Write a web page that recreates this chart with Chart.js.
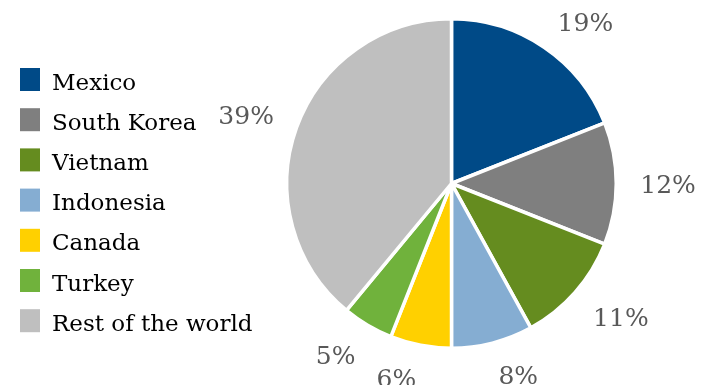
<!DOCTYPE html>
<html>
<head>
<meta charset="utf-8">
<script src="https://cdn.jsdelivr.net/npm/chart.js@4"></script>
<style>
  html, body { margin: 0; padding: 0; background: #fff; }
</style>
</head>
<body>
<canvas id="grafico" width="703" height="385"></canvas>
<script>
const paises = ['Mexico', 'South Korea', 'Vietnam', 'Indonesia', 'Canada', 'Turkey', 'Rest of the world'];
const percentuais = [19, 12, 11, 8, 6, 5, 39];
const cores = ['#004A87', '#7F7F7F', '#658C1F', '#85ADD2', '#FFD000', '#70B23C', '#BFBFBF'];

// legenda desenhada a mao na esquerda
const legendaLateral = {
  id: 'legendaLateral',
  afterDraw(chart) {
    const ctx = chart.ctx;
    ctx.save();
    ctx.font = '23px "DejaVu Serif"';
    ctx.textAlign = 'left';
    ctx.textBaseline = 'alphabetic';
    paises.forEach((nome, i) => {
      const topo = 68 + i * 40.2;
      ctx.fillStyle = cores[i];
      ctx.fillRect(20, topo, 20, 23);
      ctx.fillStyle = '#000';
      ctx.fillText(nome, 52, topo + 21.5);
    });
    ctx.restore();
  }
};

// rotulos de porcentagem fora das fatias
const rotulosFora = {
  id: 'rotulosFora',
  afterDatasetsDraw(chart) {
    const ctx = chart.ctx;
    const arcs = chart.getDatasetMeta(0).data;
    const altura = 18;
    ctx.save();
    ctx.font = '25px "DejaVu Serif"';
    ctx.fillStyle = '#595959';
    ctx.textBaseline = 'alphabetic';
    arcs.forEach((arc, i) => {
      const p = arc.getProps(['x', 'y', 'startAngle', 'endAngle', 'outerRadius'], true);
      const meio = (p.startAngle + p.endAngle) / 2;
      const r = p.outerRadius + 24;
      const cx = Math.cos(meio);
      const sy = Math.sin(meio);
      const ax = p.x + cx * r;
      const ay = p.y + sy * r;
      ctx.textAlign = cx > 0.15 ? 'left' : (cx < -0.15 ? 'right' : 'center');
      let by;
      if (sy < -0.15) by = ay + 4;
      else if (sy > 0.15) by = ay + altura;
      else by = ay + altura / 2;
      ctx.fillText(percentuais[i] + '%', ax, by);
    });
    ctx.restore();
  }
};

const ctx = document.getElementById('grafico').getContext('2d');
new Chart(ctx, {
  type: 'pie',
  data: {
    labels: paises,
    datasets: [{
      data: percentuais,
      backgroundColor: cores,
      borderColor: '#ffffff',
      borderWidth: 3.5
    }]
  },
  options: {
    responsive: false,
    animation: false,
    layout: {
      padding: { left: 285, right: 85, top: 17, bottom: 35 }
    },
    plugins: {
      legend: { display: false },
      tooltip: { enabled: false }
    }
  },
  plugins: [rotulosFora, legendaLateral]
});
</script>
</body>
</html>
